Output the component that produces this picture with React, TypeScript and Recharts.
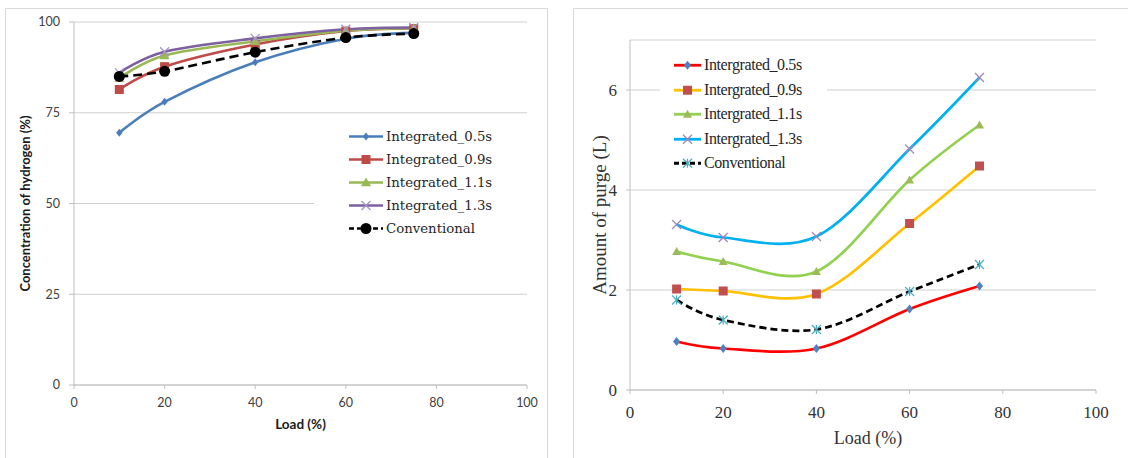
import React from "react";
import { CartesianGrid, Legend, Line, LineChart, XAxis, YAxis } from "recharts";

// shared x values (load, %)
const loads = [10, 20, 40, 60, 75];
const loadTicks = [0, 20, 40, 60, 80, 100];

// left: hydrogen concentration (%)
const h2Ticks = [0, 25, 50, 75, 100];
const h2Int05 = [69.5, 78.0, 88.9, 95.4, 97.0];
const h2Int09 = [81.4, 87.7, 93.8, 97.5, 98.2];
const h2Int11 = [84.5, 90.8, 94.7, 97.6, 98.3];
const h2Int13 = [86.0, 91.8, 95.5, 98.0, 98.5];
const h2Conv = [85.0, 86.4, 91.7, 95.7, 96.8];

// right: amount of purge (L)
const purgeTicks = [0, 2, 4, 6];
const purgeInt05 = [0.97, 0.83, 0.83, 1.62, 2.08];
const purgeInt09 = [2.02, 1.98, 1.92, 3.33, 4.48];
const purgeInt11 = [2.77, 2.57, 2.37, 4.2, 5.3];
const purgeInt13 = [3.31, 3.05, 3.07, 4.82, 6.25];
const purgeConv = [1.8, 1.4, 1.21, 1.97, 2.51];

const leftSeries = [
  { key: "a", name: "Integrated_0.5s", values: h2Int05, stroke: "#4a7ebb", marker: "diamond", markerColor: "#4a7ebb", size: 8 },
  { key: "b", name: "Integrated_0.9s", values: h2Int09, stroke: "#be4b48", marker: "square", markerColor: "#be4b48", size: 9 },
  { key: "c", name: "Integrated_1.1s", values: h2Int11, stroke: "#98b954", marker: "triangle", markerColor: "#98b954", size: 10 },
  { key: "d", name: "Integrated_1.3s", values: h2Int13, stroke: "#7d60a0", marker: "cross", markerColor: "#a593c2", size: 9 },
  { key: "e", name: "Conventional", values: h2Conv, stroke: "#000000", marker: "circle", markerColor: "#000000", size: 11, dash: "9 5" },
];

const rightSeries = [
  { key: "a", name: "Intergrated_0.5s", values: purgeInt05, stroke: "#ff0000", marker: "diamond", markerColor: "#4f81bd", size: 9 },
  { key: "b", name: "Intergrated_0.9s", values: purgeInt09, stroke: "#ffc000", marker: "square", markerColor: "#c0504d", size: 9 },
  { key: "c", name: "Intergrated_1.1s", values: purgeInt11, stroke: "#92d050", marker: "triangle", markerColor: "#9bbb59", size: 9 },
  { key: "d", name: "Intergrated_1.3s", values: purgeInt13, stroke: "#00b0f0", marker: "cross", markerColor: "#9b86bd", size: 9 },
  { key: "e", name: "Conventional", values: purgeConv, stroke: "#000000", marker: "star", markerColor: "#4bacc6", size: 9, dash: "7 4" },
];

const toRows = (series: any[]) =>
  loads.map((load, i) => {
    const row: any = { load };
    series.forEach((s) => (row[s.key] = s.values[i]));
    return row;
  });

const leftRows = toRows(leftSeries);
const rightRows = toRows(rightSeries);

// Excel-like smoothed line (cardinal spline, tension 0)
function excelSmooth(context: any) {
  const k = 1 / 6;
  let x0 = NaN, y0 = NaN, x1 = NaN, y1 = NaN, x2 = NaN, y2 = NaN;
  let n = 0;
  let state = NaN;
  const seg = (x: number, y: number) =>
    context.bezierCurveTo(x1 + k * (x2 - x0), y1 + k * (y2 - y0), x2 + k * (x1 - x), y2 + k * (y1 - y), x2, y2);
  return {
    areaStart() { state = 0; },
    areaEnd() { state = NaN; },
    lineStart() { x0 = x1 = x2 = y0 = y1 = y2 = NaN; n = 0; },
    lineEnd() {
      if (n === 2) context.lineTo(x2, y2);
      else if (n === 3) seg(x1, y1);
      if (state || (state !== 0 && n === 1)) context.closePath();
      state = 1 - state;
    },
    point(x: number, y: number) {
      x = +x; y = +y;
      if (n === 0) { n = 1; state ? context.lineTo(x, y) : context.moveTo(x, y); }
      else if (n === 1) { n = 2; x1 = x; y1 = y; }
      else { n = 3; seg(x, y); }
      x0 = x1; x1 = x2; x2 = x;
      y0 = y1; y1 = y2; y2 = y;
    },
  };
}

function Marker({ shape, x, y, color, size }: any) {
  const r = size / 2;
  switch (shape) {
    case "diamond":
      return <polygon points={`${x},${y - r} ${x + r * 0.8},${y} ${x},${y + r} ${x - r * 0.8},${y}`} fill={color} />;
    case "square":
      return <rect x={x - r} y={y - r} width={size} height={size} fill={color} />;
    case "triangle":
      return <polygon points={`${x},${y - r} ${x + r},${y + r * 0.75} ${x - r},${y + r * 0.75}`} fill={color} />;
    case "cross":
      return (
        <g stroke={color} strokeWidth={1.2}>
          <line x1={x - r} y1={y - r} x2={x + r} y2={y + r} />
          <line x1={x - r} y1={y + r} x2={x + r} y2={y - r} />
        </g>
      );
    case "star":
      return (
        <g stroke={color} strokeWidth={1.2}>
          <line x1={x - r} y1={y - r} x2={x + r} y2={y + r} />
          <line x1={x - r} y1={y + r} x2={x + r} y2={y - r} />
          <line x1={x} y1={y - r} x2={x} y2={y + r} />
        </g>
      );
    default:
      return <circle cx={x} cy={y} r={r} fill={color} />;
  }
}

function LegendBox({ series, lineLen, rowH, padLeft, gap, font, fontSize, spacing, lineWidth }: any) {
  return (
    <div style={{ background: "#fff", paddingLeft: padLeft }}>
      {series.map((s: any) => (
        <div key={s.key} style={{ display: "flex", alignItems: "center", height: rowH }}>
          <svg width={lineLen} height={rowH} style={{ flex: "none" }}>
            <line x1={0} x2={lineLen} y1={rowH / 2} y2={rowH / 2} stroke={s.stroke} strokeWidth={lineWidth} strokeDasharray={s.dash ? "5 3" : undefined} />
            <Marker shape={s.marker} x={lineLen / 2} y={rowH / 2} color={s.markerColor} size={s.size} />
          </svg>
          <span style={{ marginLeft: gap, fontFamily: font, fontSize, letterSpacing: spacing, color: "#262626", whiteSpace: "nowrap", lineHeight: 1 }}>
            {s.name}
          </span>
        </div>
      ))}
    </div>
  );
}

const dotFor = (s: any) => (p: any) =>
  <Marker key={`${s.key}-${p.index}`} shape={s.marker} x={p.cx} y={p.cy} color={s.markerColor} size={s.size} />;

function LeftChart() {
  const tickStyle = { fill: "#404040", fontSize: 12.5, fontFamily: "Lato" };
  return (
    <LineChart width={560} height={458} data={leftRows} margin={{ top: 22, right: 33, left: 0, bottom: 0 }}>
      <CartesianGrid stroke="#d0d0d0" vertical={false} />
      <XAxis
        type="number"
        dataKey="load"
        domain={[0, 100]}
        ticks={loadTicks}
        height={73}
        stroke="#bfbfbf"
        tickSize={4}
        tickMargin={9}
        tick={tickStyle}
        label={{
          content: ({ viewBox }: any) => (
            <text x={viewBox.x + viewBox.width / 2} y={424} textAnchor="middle" dominantBaseline="central" fontFamily="Lato" fontWeight={700} fontSize={13.5} fill="#1a1a1a">
              Load (%)
            </text>
          ),
        }}
      />
      <YAxis
        domain={[0, 100]}
        ticks={h2Ticks}
        width={74}
        stroke="#bfbfbf"
        tickSize={5}
        tickMargin={9}
        tick={tickStyle}
        label={{
          content: ({ viewBox }: any) => {
            const cx = 25;
            const cy = viewBox.y + viewBox.height / 2;
            return (
              <text x={cx} y={cy} transform={`rotate(-90 ${cx} ${cy})`} textAnchor="middle" dominantBaseline="central" fontFamily="Lato" fontWeight={700} fontSize={13} fill="#1a1a1a">
                Concentration of hydrogen (%)
              </text>
            );
          },
        }}
      />
      <Legend
        layout="vertical"
        align="center"
        verticalAlign="middle"
        wrapperStyle={{ left: 314, top: 125, width: 213 }}
        content={<LegendBox series={leftSeries} lineLen={34} rowH={23} padLeft={35} gap={3} font="DejaVu Serif" fontSize={13.3} spacing={0} lineWidth={2.5} />}
      />
      {leftSeries.map((s) => (
        <Line
          key={s.key}
          dataKey={s.key}
          name={s.name}
          type={excelSmooth as any}
          stroke={s.stroke}
          strokeWidth={2.6}
          strokeDasharray={s.dash}
          dot={dotFor(s)}
          activeDot={false}
          isAnimationActive={false}
        />
      ))}
    </LineChart>
  );
}

function RightChart() {
  const tickStyle = { fill: "#333", fontSize: 17, fontFamily: "Liberation Serif" };
  return (
    <LineChart width={563} height={458} data={rightRows} margin={{ top: 40, right: 32, left: 0, bottom: 0 }}>
      <CartesianGrid stroke="#d0d0d0" vertical={false} />
      <XAxis
        type="number"
        dataKey="load"
        domain={[0, 100]}
        ticks={loadTicks}
        height={68}
        stroke="#bfbfbf"
        tickSize={4}
        tickMargin={12}
        tick={tickStyle}
        label={{
          content: ({ viewBox }: any) => (
            <text x={viewBox.x + viewBox.width / 2 + 5} y={438} textAnchor="middle" dominantBaseline="central" fontFamily="Liberation Serif" fontSize={18} fill="#333">
              Load (%)
            </text>
          ),
        }}
      />
      <YAxis
        domain={[0, 7]}
        ticks={purgeTicks}
        width={65}
        stroke="#bfbfbf"
        tickSize={4}
        tickMargin={9}
        tick={tickStyle}
        label={{
          content: ({ viewBox }: any) => {
            const cx = 34;
            const cy = viewBox.y + viewBox.height / 2;
            return (
              <text x={cx} y={cy} transform={`rotate(-90 ${cx} ${cy})`} textAnchor="middle" dominantBaseline="central" fontFamily="Liberation Serif" fontSize={19} fill="#333">
                Amount of purge (L)
              </text>
            );
          },
        }}
      />
      <Legend
        layout="vertical"
        align="center"
        verticalAlign="middle"
        wrapperStyle={{ left: 95, top: 53, width: 167 }}
        content={<LegendBox series={rightSeries} lineLen={27} rowH={24.5} padLeft={14} gap={3} font="Liberation Serif" fontSize={16} spacing={-0.4} lineWidth={2.8} />}
      />
      {rightSeries.map((s) => (
        <Line
          key={s.key}
          dataKey={s.key}
          name={s.name}
          type={excelSmooth as any}
          stroke={s.stroke}
          strokeWidth={2.7}
          strokeDasharray={s.dash}
          dot={dotFor(s)}
          activeDot={false}
          isAnimationActive={false}
        />
      ))}
    </LineChart>
  );
}

export default function App() {
  return (
    <div style={{ position: "fixed", left: 0, top: 0, width: 1128, height: 458, overflow: "hidden", background: "#fff" }}>
      <div style={{ position: "absolute", left: 5, top: 8, width: 541, height: 470, border: "1px solid #d9d9d9" }} />
      <div style={{ position: "absolute", left: 573, top: 8, width: 600, height: 470, border: "1px solid #d9d9d9" }} />
      <div style={{ position: "absolute", left: 0, top: 0 }}>
        <LeftChart />
      </div>
      <div style={{ position: "absolute", left: 565, top: 0 }}>
        <RightChart />
      </div>
    </div>
  );
}
